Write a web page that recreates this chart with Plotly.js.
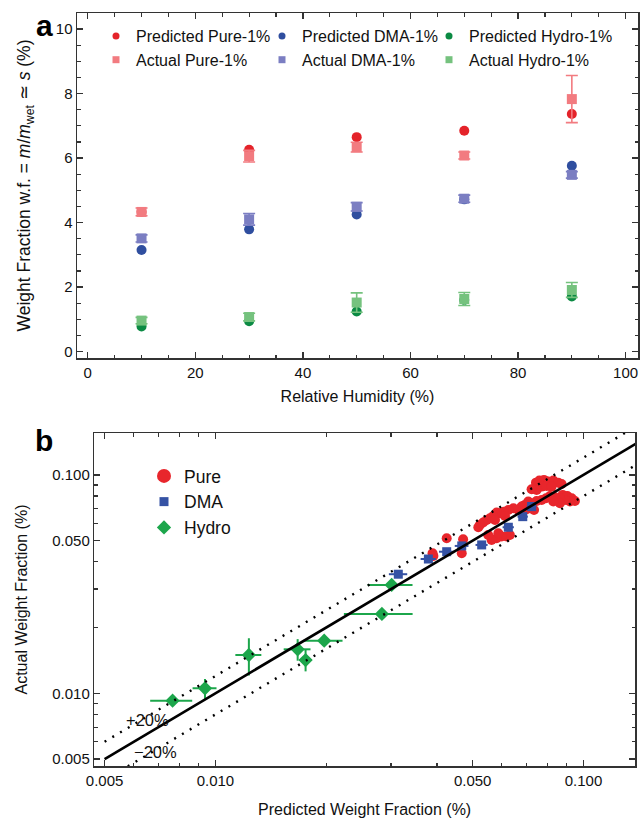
<!DOCTYPE html>
<html><head><meta charset="utf-8">
<script src="https://cdn.plot.ly/plotly-3.0.1.min.js"></script>
<style>html,body{margin:0;padding:0;background:#fff}#chart{width:640px;height:826px}</style>
</head><body><div id="chart"></div><script>
// ---- Panel a data ----
const humidity = [10, 30, 50, 70, 90];
const predPure = [4.33, 6.26, 6.65, 6.85, 7.37];
const predDMA = [3.15, 3.79, 4.25, 4.72, 5.76];
const predHydro = [0.78, 0.94, 1.24, 1.60, 1.71];
const actPure = [4.33, 6.06, 6.34, 6.08, 7.83];
const actPureErr = [0.12, 0.18, 0.15, 0.11, 0.73];
const actDMA = [3.51, 4.10, 4.49, 4.74, 5.48];
const actDMAErr = [0.11, 0.18, 0.13, 0.11, 0.10];
const actHydro = [0.96, 1.07, 1.52, 1.63, 1.91];
const actHydroErr = [0.10, 0.12, 0.30, 0.20, 0.23];

// ---- Panel b data ----
const purePred = [0.0743,0.0759,0.0781,0.0802,0.0828,0.0854,0.0872,0.0770,0.0794,0.0819,0.0746,0.0723,
  0.0878,0.0904,0.0929,0.0948,0.0919,0.0891,0.0863,0.0837,0.0811,0.0791,0.0770,0.0746,0.0723,0.0863,0.0828,
  0.0708,0.0693,0.0679,0.0701,0.0723,0.0734,0.0665,0.0645,0.0625,0.0608,0.0593,0.0581,0.0569,0.0557,0.0546,
  0.0534,0.0523,0.0518,0.0575,0.0612,0.0631,0.0618,0.0599,0.0581,0.0563,0.0551,0.0587,0.0471,0.0467,0.0425,
  0.0389,0.0391];
const pureAct = [0.0922,0.0942,0.0949,0.0932,0.0942,0.0922,0.0909,0.0884,0.0890,0.0884,0.0854,0.0860,
  0.0810,0.0801,0.0782,0.0760,0.0755,0.0768,0.0782,0.0790,0.0801,0.0782,0.0768,0.0760,0.0742,0.0742,0.0755,
  0.0755,0.0729,0.0716,0.0696,0.0716,0.0691,0.0691,0.0704,0.0691,0.0679,0.0667,0.0672,0.0649,0.0633,0.0622,
  0.0605,0.0590,0.0576,0.0622,0.0649,0.0531,0.0522,0.0522,0.0513,0.0504,0.0531,0.0541,0.0507,0.0438,0.0513,
  0.0438,0.0425];
const dmaPred = [0.0314, 0.0379, 0.0425, 0.0467, 0.0529, 0.0625, 0.0684, 0.0723];
const dmaAct = [0.0351, 0.0412, 0.0445, 0.0473, 0.0478, 0.0576, 0.0644, 0.0716];
const dmaPredErr = [0.0018, 0.0018, 0.0020, 0.0020, 0.0020, 0.0022, 0.0022, 0.0022];
const dmaActErr = [0.0006, 0.0006, 0.0006, 0.0006, 0.0006, 0.0008, 0.0008, 0.0008];
const hydroPred = [0.00765, 0.00937, 0.01233, 0.01673, 0.01758, 0.01975, 0.02834, 0.03012];
const hydroAct = [0.00925, 0.01054, 0.01497, 0.01590, 0.01420, 0.01742, 0.02308, 0.03134];
const hydroPredErr = [0.0010, 0.0007, 0.0010, 0.0014, 0.0007, 0.0024, 0.0060, 0.0042];
const hydroActErr = [0.0002, 0.0011, 0.0029, 0.0018, 0.0016, 0.0003, 0.0004, 0.0004];
const parityX = [0.005, 0.16];
const bandPlus = 1.2, bandMinus = 0.8;

const xTicksB = [0.005, 0.01, 0.05, 0.1];
const xTickTextB = ['0.005', '0.010', '0.050', '0.100'];
const minorLog = [0.006,0.007,0.008,0.009,0.02,0.03,0.04,0.06,0.07,0.08,0.09,0.2];

const C = {
  pPure:'#e4232a', pDMA:'#2f4e9f', pHydro:'#0b8a43',
  aPure:'#f27b80', aDMA:'#7b7ec2', aHydro:'#75c27e',
  bPure:'#e8262c', bDMA:'#3552a4', bHydro:'#1ca64b'
};
const FONT = 'Liberation Sans, Arial, Helvetica, sans-serif';

const traces = [];
function pred(name, y, color){
  traces.push({x:humidity, y:y, type:'scatter', mode:'markers', name:name,
    xaxis:'x', yaxis:'y', marker:{symbol:'circle', size:10, color:color}, showlegend:false});
}
function act(name, y, err, color){
  traces.push({x:humidity, y:y, type:'scatter', mode:'markers', name:name,
    xaxis:'x', yaxis:'y', marker:{symbol:'square', size:10, color:color}, showlegend:false,
    error_y:{type:'data', array:err, visible:true, color:color, thickness:1.6, width:6}});
}
pred('Predicted Pure-1%', predPure, C.pPure);
pred('Predicted DMA-1%', predDMA, C.pDMA);
pred('Predicted Hydro-1%', predHydro, C.pHydro);
act('Actual Pure-1%', actPure, actPureErr, C.aPure);
act('Actual DMA-1%', actDMA, actDMAErr, C.aDMA);
act('Actual Hydro-1%', actHydro, actHydroErr, C.aHydro);
// legend entries (panel a): one small legend per column
[['Predicted Pure-1%','circle',C.pPure,'legend'],['Actual Pure-1%','square',C.aPure,'legend'],
 ['Predicted DMA-1%','circle',C.pDMA,'legend2'],['Actual DMA-1%','square',C.aDMA,'legend2'],
 ['Predicted Hydro-1%','circle',C.pHydro,'legend3'],['Actual Hydro-1%','square',C.aHydro,'legend3']].forEach(e=>{
  traces.push({x:[null], y:[null], type:'scatter', mode:'markers', name:e[0], legend:e[3],
    xaxis:'x', yaxis:'y', marker:{symbol:e[1], size:7, color:e[2]}, showlegend:true, hoverinfo:'skip'});
});

// Panel b
traces.push({x:purePred, y:pureAct, type:'scatter', mode:'markers', name:'Pure',
  xaxis:'x2', yaxis:'y2', marker:{symbol:'circle', size:10, color:C.bPure}, showlegend:false});
traces.push({x:dmaPred, y:dmaAct, type:'scatter', mode:'markers', name:'DMA',
  xaxis:'x2', yaxis:'y2', marker:{symbol:'square', size:9, color:C.bDMA}, showlegend:false,
  error_x:{type:'data', array:dmaPredErr, color:C.bDMA, thickness:2, width:0},
  error_y:{type:'data', array:dmaActErr, color:C.bDMA, thickness:2, width:0}});
traces.push({x:hydroPred, y:hydroAct, type:'scatter', mode:'markers', name:'Hydro',
  xaxis:'x2', yaxis:'y2', marker:{symbol:'diamond', size:11, color:C.bHydro}, showlegend:false,
  error_x:{type:'data', array:hydroPredErr, color:C.bHydro, thickness:2, width:0},
  error_y:{type:'data', array:hydroActErr, color:C.bHydro, thickness:2, width:0}});
traces.push({x:parityX, y:parityX, type:'scatter', mode:'lines', xaxis:'x2', yaxis:'y2',
  line:{color:'#000', width:2.6}, showlegend:false, hoverinfo:'skip'});
traces.push({x:parityX, y:parityX.map(v=>v*bandPlus), type:'scatter', mode:'lines', xaxis:'x2', yaxis:'y2',
  line:{color:'#000', width:2.4, dash:'2px,7px'}, showlegend:false, hoverinfo:'skip'});
traces.push({x:parityX, y:parityX.map(v=>v*bandMinus), type:'scatter', mode:'lines', xaxis:'x2', yaxis:'y2',
  line:{color:'#000', width:2.4, dash:'2px,7px'}, showlegend:false, hoverinfo:'skip'});
[['Pure','circle',14,C.bPure],['DMA','square',9,C.bDMA],['Hydro','diamond',11,C.bHydro]].forEach(e=>{
  traces.push({x:[null], y:[null], type:'scatter', mode:'markers', name:e[0], legend:'legend4',
    xaxis:'x2', yaxis:'y2', marker:{symbol:e[1], size:e[2], color:e[3]}, showlegend:true, hoverinfo:'skip'});
});

const axCommon = {showline:true, linecolor:'#333', linewidth:1.5, mirror:'allticks', ticks:'inside',
  ticklen:6, tickwidth:1.3, tickcolor:'#333', showgrid:false, zeroline:false,
  tickfont:{family:FONT, size:15, color:'#111'}, automargin:false};

const W = 640, H = 826;
function colLegend(px){
  return {orientation:'v', x:px/W, y:1-19/H, xanchor:'left', yanchor:'top', itemwidth:30,
    font:{family:FONT, size:16, color:'#111'}, bgcolor:'rgba(0,0,0,0)', tracegroupgap:0};
}
const layout = {
  width:W, height:H, margin:{l:0, r:0, t:0, b:0}, paper_bgcolor:'#fff', plot_bgcolor:'#fff',
  font:{family:FONT, color:'#111'},
  xaxis: Object.assign({}, axCommon, {domain:[77/W, 638/W], range:[-2, 102.3], anchor:'y',
    tickvals:[0,20,40,60,80,100], minor:{dtick:5, tick0:0, ticks:'inside', ticklen:3.5, tickwidth:1.2, tickcolor:'#333'},
    title:{text:'Relative Humidity (%)', font:{family:FONT, size:16, color:'#111'}, standoff:11}}),
  yaxis: Object.assign({}, axCommon, {domain:[1-358/H, 1-13/H], range:[-0.2, 10.5], anchor:'x',
    tickvals:[0,2,4,6,8,10], minor:{dtick:0.5, tick0:0, ticks:'inside', ticklen:3.5, tickwidth:1.2, tickcolor:'#333'},
    title:{text:'Weight Fraction w.f. = <i>m</i>/<i>m</i><sub>wet</sub> ≃ <i>s</i> (%)', font:{family:FONT, size:17.5, color:'#111'}, standoff:20}}),
  xaxis2: Object.assign({}, axCommon, {domain:[94.3/W, 635/W], type:'log', range:[-2.329, -0.86], anchor:'y2',
    tickvals:xTicksB, ticktext:xTickTextB, minor:{tickvals:minorLog, ticks:'inside', ticklen:3.5, tickwidth:1.2, tickcolor:'#333'},
    title:{text:'Predicted Weight Fraction (%)', font:{family:FONT, size:16, color:'#111'}, standoff:16}}),
  yaxis2: Object.assign({}, axCommon, {domain:[1-766/H, 1-433/H], type:'log', range:[-2.333, -0.808], anchor:'x2',
    tickvals:xTicksB, ticktext:xTickTextB, minor:{tickvals:minorLog, ticks:'inside', ticklen:3.5, tickwidth:1.2, tickcolor:'#333'},
    title:{text:'Actual Weight Fraction (%)', font:{family:FONT, size:16, color:'#111'}, standoff:20}}),
  legend: colLegend(96),
  legend2: colLegend(262),
  legend3: colLegend(429),
  legend4:{orientation:'v', x:144/W, y:1-458/H, xanchor:'left', yanchor:'top', itemwidth:30,
    font:{family:FONT, size:17.5, color:'#111'}, bgcolor:'rgba(0,0,0,0)', tracegroupgap:0},
  annotations:[
    {text:'<b>a</b>', xref:'paper', yref:'paper', x:44/W, y:1-26/H, xanchor:'center', yanchor:'middle', showarrow:false, font:{family:FONT, size:30, color:'#000'}},
    {text:'<b>b</b>', xref:'paper', yref:'paper', x:44/W, y:1-440/H, xanchor:'center', yanchor:'middle', showarrow:false, font:{family:FONT, size:30, color:'#000'}},
    {text:'+20%', xref:'paper', yref:'paper', x:147/W, y:1-720/H, xanchor:'center', yanchor:'middle', showarrow:false, font:{family:FONT, size:16.5, color:'#111'}},
    {text:'−20%', xref:'paper', yref:'paper', x:155/W, y:1-752/H, xanchor:'center', yanchor:'middle', showarrow:false, font:{family:FONT, size:16.5, color:'#111'}}
  ],
  showlegend:true
};
Plotly.newPlot('chart', traces, layout, {displayModeBar:false, staticPlot:true});
</script></body></html>
